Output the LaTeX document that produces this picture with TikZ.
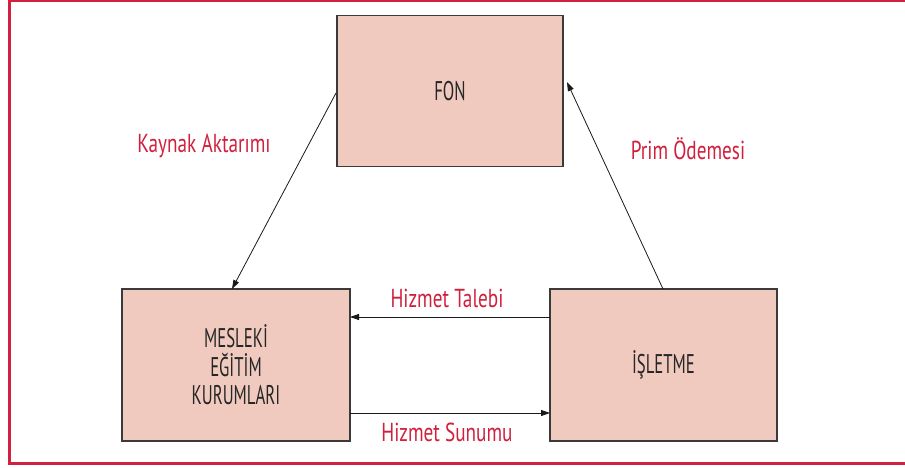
\documentclass[tikz,border=0pt]{standalone}
\usepackage{fontspec}
\setmainfont{PT Sans}
\newfontfamily\blockfont{PT Sans}[FakeStretch=0.62]
\newfontfamily\tagfont{PT Sans}[FakeStretch=0.74]
\usetikzlibrary{arrows.meta}
\definecolor{frame}{HTML}{D2203F}
\definecolor{boxfill}{HTML}{F0CABE}
\definecolor{boxline}{HTML}{3A3A3A}
\definecolor{labelred}{HTML}{D0203E}
\tikzset{
  block/.style={draw=boxline, line width=1.1pt, fill=boxfill, inner sep=0pt,
    text=black!85, font=\blockfont\fontsize{27}{28.5}\selectfont, align=center},
  link/.style={draw=black!90, line width=0.8pt, -{Triangle[length=9pt,width=6pt]}},
  tag/.style={text=labelred, font=\tagfont\fontsize{26}{28}\selectfont, inner sep=0pt}
}
\begin{document}
\begin{tikzpicture}[x=1pt,y=-1pt]
\useasboundingbox (0,0) rectangle (905,468);
% outer frame (open on the right)
\draw[frame, line width=3pt] (905,1) -- (9.5,1) -- (9.5,463.5) -- (905,463.5);
% boxes
\node[block, minimum width=226pt, minimum height=151pt] (fon) at (450,91) {FON};
\node[block, minimum width=228pt, minimum height=152pt] (mek) at (236,365) {MESLEKİ\\EĞİTİM\\KURUMLARI};
\node[block, minimum width=227pt, minimum height=152pt] (isl) at (663.5,365) {İŞLETME};
% anchor points of the connectors
\coordinate (fonL) at (336,93);
\coordinate (fonR) at (567,82);
\coordinate (mekT) at (232,289);
\coordinate (islT) at (663,289);
\coordinate (mekR1) at (350,317);
\coordinate (islL1) at (550,317);
\coordinate (mekR2) at (350,413);
\coordinate (islL2) at (550,413);
% connectors
\draw[link] (fonL) -- (mekT);
\draw[link] (islT) -- (fonR);
\draw[link] (islL1) -- (mekR1);
\draw[link] (mekR2) -- (islL2);
% labels
\node[tag] (lk) at (204,146) {Kaynak Aktarımı};
\node[tag] (lp) at (688,149) {Prim Ödemesi};
\node[tag] (lt) at (447,298) {Hizmet Talebi};
\node[tag] (ls) at (447,432) {Hizmet Sunumu};
\end{tikzpicture}
\end{document}
